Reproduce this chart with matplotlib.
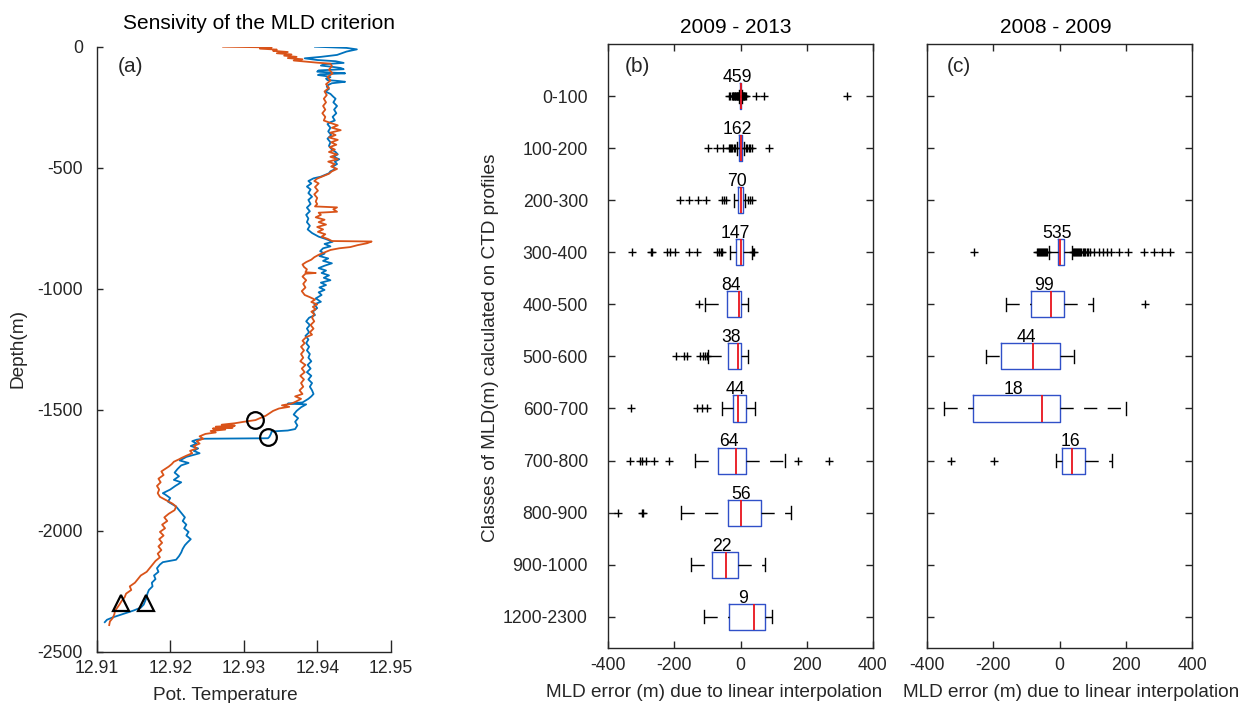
import matplotlib
matplotlib.use("Agg")
import matplotlib.pyplot as plt

plt.rcParams['font.family'] = ['Liberation Sans', 'DejaVu Sans']
plt.rcParams['axes.unicode_minus'] = False

# ---------------- (a) potential temperature profiles: (depth m, theta) ----------------
profile_blue = [
    (0, 12.9397), (-2, 12.9415), (-5, 12.9440), (-11, 12.9454), (-20, 12.9440), (-34, 12.9427),
    (-42, 12.9405), (-48, 12.9383), (-55, 12.9400), (-60, 12.9425), (-67, 12.9436), (-72, 12.9410),
    (-78, 12.9405), (-83, 12.9420), (-88, 12.9432), (-93, 12.9436), (-98, 12.9402), (-103, 12.9400),
    (-107, 12.9420), (-110, 12.9438), (-114, 12.9404), (-117, 12.9401), (-122, 12.9413), (-126, 12.9418),
    (-132, 12.9412), (-138, 12.9414), (-142, 12.9430), (-145, 12.9438), (-151, 12.9420), (-158, 12.9415),
    (-165, 12.9413), (-175, 12.9416), (-185, 12.9411), (-195, 12.9418), (-207, 12.9422),
    (-215, 12.9425), (-230, 12.9422), (-245, 12.9427), (-260, 12.9423), (-275, 12.9426), (-290, 12.9421),
    (-305, 12.9424), (-312, 12.9418),
    (-320, 12.9414), (-335, 12.9418), (-350, 12.9415), (-365, 12.9419), (-380, 12.9414), (-395, 12.9418),
    (-410, 12.9416), (-425, 12.9420),
    (-435, 12.9425), (-445, 12.9428), (-455, 12.9422), (-465, 12.9430), (-475, 12.9424), (-485, 12.9427),
    (-495, 12.9421), (-505, 12.9425), (-515, 12.9418), (-523, 12.9416),
    (-537, 12.9405), (-544, 12.9395), (-555, 12.9388), (-565, 12.9392), (-578, 12.9386), (-590, 12.9391),
    (-605, 12.9388), (-620, 12.9393), (-633, 12.9388),
    (-650, 12.9391), (-665, 12.9386), (-680, 12.9390), (-695, 12.9385), (-710, 12.9388), (-725, 12.9386),
    (-740, 12.9390), (-755, 12.9387), (-770, 12.9393), (-785, 12.9402),
    (-795, 12.9412), (-806, 12.9421), (-815, 12.9410), (-825, 12.9418), (-833, 12.9408),
    (-845, 12.9404), (-855, 12.9410), (-865, 12.9403), (-875, 12.9415), (-885, 12.9408), (-895, 12.9420),
    (-905, 12.9410), (-915, 12.9402), (-925, 12.9412), (-935, 12.9406), (-945, 12.9416), (-955, 12.9409),
    (-965, 12.9418), (-975, 12.9405), (-985, 12.9412), (-995, 12.9403), (-1005, 12.9410), (-1015, 12.9402),
    (-1026, 12.9406),
    (-1040, 12.9398), (-1054, 12.9405), (-1065, 12.9396), (-1080, 12.9400), (-1095, 12.9394), (-1109, 12.9397),
    (-1120, 12.9389), (-1135, 12.9385), (-1150, 12.9390), (-1165, 12.9386), (-1180, 12.9389), (-1195, 12.9384),
    (-1210, 12.9388), (-1225, 12.9385), (-1240, 12.9389), (-1255, 12.9386), (-1270, 12.9390),
    (-1285, 12.9388), (-1300, 12.9392), (-1315, 12.9387), (-1330, 12.9391), (-1345, 12.9386), (-1360, 12.9392),
    (-1375, 12.9388), (-1390, 12.9393),
    (-1405, 12.9390), (-1420, 12.9393), (-1435, 12.9395), (-1445, 12.9392), (-1455, 12.9388), (-1470, 12.9380),
    (-1475, 12.9360), (-1478, 12.9385), (-1490, 12.9378),
    (-1505, 12.9372), (-1520, 12.9368), (-1535, 12.9374), (-1550, 12.9370), (-1565, 12.9373), (-1580, 12.9370),
    (-1586, 12.9360), (-1590, 12.9338), (-1600, 12.9337), (-1612, 12.9335), (-1618, 12.9333), (-1620, 12.9245),
    (-1624, 12.9236),
    (-1630, 12.9230), (-1640, 12.9236), (-1650, 12.9228), (-1660, 12.9238), (-1670, 12.9232), (-1680, 12.9240),
    (-1695, 12.9222), (-1710, 12.9213), (-1720, 12.9225), (-1730, 12.9215), (-1745, 12.9210),
    (-1760, 12.9206), (-1775, 12.9212), (-1790, 12.9205), (-1800, 12.9215), (-1815, 12.9207), (-1830, 12.9200),
    (-1845, 12.9190), (-1850, 12.9193), (-1865, 12.9200), (-1880, 12.9197),
    (-1900, 12.9208), (-1915, 12.9212), (-1930, 12.9216), (-1945, 12.9220), (-1960, 12.9217), (-1975, 12.9222),
    (-1990, 12.9219), (-2005, 12.9225), (-2020, 12.9222), (-2035, 12.9228), (-2050, 12.9223), (-2060, 12.9220),
    (-2075, 12.9217), (-2090, 12.9215), (-2105, 12.9212), (-2120, 12.9208), (-2130, 12.9190), (-2140, 12.9186),
    (-2155, 12.9182), (-2170, 12.9184), (-2185, 12.9178), (-2200, 12.9180), (-2215, 12.9175), (-2230, 12.9176),
    (-2245, 12.9171), (-2260, 12.9169), (-2275, 12.9168), (-2290, 12.9166), (-2305, 12.9164), (-2318, 12.9160),
    (-2330, 12.9150), (-2345, 12.9135), (-2358, 12.9122), (-2368, 12.9114), (-2378, 12.9111),
]

profile_orange = [
    (0, 12.9272), (-3, 12.9338), (-8, 12.9322), (-12, 12.9345), (-17, 12.9340), (-22, 12.9360),
    (-27, 12.9345), (-32, 12.9365), (-37, 12.9355), (-42, 12.9372), (-47, 12.9360), (-52, 12.9380),
    (-57, 12.9368), (-62, 12.9385), (-66, 12.9400), (-70, 12.9418),
    (-80, 12.9420), (-95, 12.9416), (-110, 12.9421), (-125, 12.9414), (-140, 12.9418), (-155, 12.9412),
    (-170, 12.9416), (-185, 12.9410), (-200, 12.9413),
    (-215, 12.9409), (-230, 12.9412), (-245, 12.9408), (-260, 12.9411), (-275, 12.9407), (-290, 12.9411),
    (-305, 12.9409),
    (-315, 12.9418), (-325, 12.9428), (-335, 12.9420), (-345, 12.9432), (-355, 12.9418), (-365, 12.9425),
    (-375, 12.9416), (-385, 12.9428), (-395, 12.9419), (-405, 12.9426), (-415, 12.9417), (-425, 12.9424),
    (-435, 12.9416), (-445, 12.9427), (-455, 12.9418), (-465, 12.9428), (-475, 12.9415), (-485, 12.9424),
    (-495, 12.9419), (-505, 12.9427), (-515, 12.9420), (-525, 12.9416),
    (-535, 12.9408), (-545, 12.9400), (-555, 12.9396), (-565, 12.9402), (-580, 12.9397), (-595, 12.9401),
    (-610, 12.9396), (-625, 12.9400), (-640, 12.9398),
    (-650, 12.9400), (-660, 12.9397), (-664, 12.9427), (-672, 12.9422), (-682, 12.9427), (-686, 12.9402),
    (-695, 12.9405), (-705, 12.9398), (-715, 12.9410), (-725, 12.9402), (-735, 12.9412), (-745, 12.9400),
    (-755, 12.9408), (-765, 12.9401), (-775, 12.9411), (-785, 12.9406), (-795, 12.9415), (-803, 12.9420),
    (-805, 12.9474), (-812, 12.9468), (-820, 12.9455), (-828, 12.9445), (-833, 12.9430), (-840, 12.9418),
    (-850, 12.9410), (-860, 12.9402), (-870, 12.9396), (-880, 12.9392), (-890, 12.9385), (-900, 12.9380),
    (-910, 12.9382), (-920, 12.9386), (-932, 12.9384), (-935, 12.9398), (-938, 12.9384), (-950, 12.9380),
    (-965, 12.9385), (-980, 12.9381), (-995, 12.9384), (-1010, 12.9379), (-1026, 12.9383),
    (-1035, 12.9390), (-1045, 12.9397), (-1055, 12.9392), (-1065, 12.9400), (-1075, 12.9394), (-1085, 12.9398),
    (-1095, 12.9392), (-1105, 12.9396),
    (-1120, 12.9393), (-1135, 12.9396), (-1150, 12.9391), (-1165, 12.9395), (-1180, 12.9390), (-1190, 12.9393),
    (-1200, 12.9385), (-1215, 12.9380), (-1225, 12.9383), (-1240, 12.9378), (-1255, 12.9382), (-1270, 12.9378),
    (-1285, 12.9381), (-1300, 12.9377), (-1315, 12.9384), (-1330, 12.9379), (-1345, 12.9383), (-1360, 12.9377),
    (-1375, 12.9382), (-1390, 12.9378),
    (-1405, 12.9381), (-1420, 12.9376), (-1435, 12.9380), (-1445, 12.9370), (-1455, 12.9378),
    (-1465, 12.9372), (-1475, 12.9365), (-1482, 12.9352), (-1488, 12.9362), (-1495, 12.9348), (-1505, 12.9340),
    (-1515, 12.9335), (-1525, 12.9330), (-1535, 12.9322), (-1543, 12.9316), (-1550, 12.9300), (-1556, 12.9288),
    (-1562, 12.9270), (-1566, 12.9288), (-1570, 12.9262), (-1574, 12.9285), (-1578, 12.9258), (-1582, 12.9275),
    (-1588, 12.9255), (-1594, 12.9262),
    (-1600, 12.9248), (-1610, 12.9240), (-1620, 12.9245), (-1630, 12.9236), (-1640, 12.9240),
    (-1650, 12.9232), (-1660, 12.9236), (-1670, 12.9227), (-1680, 12.9230), (-1690, 12.9222), (-1700, 12.9215),
    (-1705, 12.9212), (-1715, 12.9205), (-1725, 12.9202), (-1735, 12.9198),
    (-1745, 12.9193), (-1755, 12.9188), (-1770, 12.9191), (-1785, 12.9184), (-1800, 12.9187), (-1815, 12.9182),
    (-1830, 12.9185), (-1845, 12.9183),
    (-1860, 12.9186), (-1875, 12.9195), (-1888, 12.9203), (-1900, 12.9208), (-1915, 12.9206),
    (-1930, 12.9198), (-1945, 12.9192), (-1960, 12.9196), (-1975, 12.9189), (-1990, 12.9193), (-2005, 12.9186),
    (-2020, 12.9191), (-2035, 12.9185), (-2050, 12.9189), (-2065, 12.9184), (-2080, 12.9188), (-2095, 12.9183),
    (-2110, 12.9186), (-2125, 12.9180),
    (-2140, 12.9176), (-2155, 12.9172), (-2170, 12.9168),
    (-2185, 12.9160), (-2200, 12.9156), (-2215, 12.9152), (-2230, 12.9145), (-2245, 12.9147), (-2260, 12.9140),
    (-2275, 12.9138), (-2290, 12.9134), (-2305, 12.9131), (-2318, 12.9128),
    (-2330, 12.9125), (-2345, 12.9124), (-2360, 12.9122), (-2375, 12.9118), (-2390, 12.9117),
]

mld_circle_temp = [12.9316, 12.9333]
mld_circle_depth = [-1543, -1614]
mld_triangle_temp = [12.9133, 12.9167]
mld_triangle_depth = [-2297, -2297]

depth_ticks = [0, -500, -1000, -1500, -2000, -2500]
temp_ticks = [12.91, 12.92, 12.93, 12.94, 12.95]
temp_tick_labels = ['12.91', '12.92', '12.93', '12.94', '12.95']

# ---------------- (b), (c) MLD error box statistics ----------------
classes = ['0-100', '100-200', '200-300', '300-400', '400-500', '500-600',
           '600-700', '700-800', '800-900', '900-1000', '1200-2300']
err_ticks = [-400, -200, 0, 200, 400]

# 2009 - 2013 (one entry per class)
counts_b = [459, 162, 70, 147, 84, 38, 44, 64, 56, 22, 9]
q1_b = [-2, -5, -7, -15, -42, -37, -24, -68, -39, -85, -35]
med_b = [0, 0, 2, 0, -5, -7, -8, -15, 2, -45, 40]
q3_b = [2, 5, 8, 7, 3, 3, 16, 16, 62, -8, 74]
whislo_b = [-5, -12, -20, -32, -108, -98, -57, -138, -180, -149, -111]
whishi_b = [5, 12, 15, 35, 22, 22, 43, 133, 152, 74, 96]
fliers_b = [
    [-35, -31, -27, -24, -22, -20, -18, -16, -14, -12, -10, -8, -7, 7, 8, 10, 12, 14, 16, 48, 70, 321],
    [-98, -70, -53, -35, -31, -28, -25, -20, -17, 16, 20, 25, 30, 35, 87],
    [-183, -155, -128, -104, -55, -50, -45, 22, 28, 35],
    [-328, -271, -266, -222, -212, -198, -155, -130, -70, -65, -60, -55, 38, 41],
    [-124],
    [-195, -170, -162, -122, -113, -107, -102],
    [-331, -132, -115, -100],
    [-333, -303, -296, -286, -261, -216, 175, 266],
    [-371, -298, -293],
    [],
    [],
]

# 2008 - 2009 (classes 300-400 to 700-800 only)
classes_c = ['300-400', '400-500', '500-600', '600-700', '700-800']
counts_c = [535, 99, 44, 18, 16]
q1_c = [-6, -86, -178, -261, 8]
med_c = [3, -27, -79, -52, 37]
q3_c = [14, 14, 0, 2, 76]
whislo_c = [-32, -163, -222, -350, -10]
whishi_c = [38, 100, 43, 201, 157]
fliers_c = [
    [-259, -67, -64, -61, -58, -55, -52, -49, -46, -43, -40, -37,
     42, 45, 48, 51, 54, 57, 60, 63, 66, 70, 74, 78, 82, 87, 92,
     103, 118, 131, 143, 156, 181, 207, 256, 284, 309, 335],
    [257],
    [],
    [],
    [-327, -198],
]

# ---------------- figure ----------------
W, H = 1241, 703
fig = plt.figure(figsize=(W / 100, H / 100), dpi=100)
fig.patch.set_facecolor('white')

INK = '#262626'
TICK_FS = 12.7
LABEL_FS = 13.7
TITLE_FS = 15


def px_axes(left, top, right, bottom):
    return fig.add_axes([left / W, 1 - bottom / H, (right - left) / W, (bottom - top) / H])


# ---- panel (a)
ax_a = px_axes(96.7, 46.7, 390.7, 651.7)
d_blue = [p[0] for p in profile_blue]
t_blue = [p[1] for p in profile_blue]
d_or = [p[0] for p in profile_orange]
t_or = [p[1] for p in profile_orange]
ax_a.plot(t_blue, d_blue, color='#0072BD', lw=1.3)
ax_a.plot(t_or, d_or, color='#D95319', lw=1.3)
ax_a.plot(mld_circle_temp, mld_circle_depth, 'o', ms=12, mfc='none', mec='black', mew=1.6)
ax_a.plot(mld_triangle_temp, mld_triangle_depth, '^', ms=12, mfc='none', mec='black', mew=1.6)
ax_a.set_xlim(12.91, 12.95)
ax_a.set_ylim(-2500, 0)
ax_a.set_xticks(temp_ticks)
ax_a.set_xticklabels(temp_tick_labels)
ax_a.set_yticks(depth_ticks)
ax_a.set_yticklabels([str(v) for v in depth_ticks])
for s in ('top', 'right'):
    ax_a.spines[s].set_visible(False)
for s in ('left', 'bottom'):
    ax_a.spines[s].set_color(INK)
    ax_a.spines[s].set_linewidth(1.0)
ax_a.tick_params(axis='x', direction='in', length=8.4, width=1.0, colors=INK,
                 labelsize=TICK_FS, pad=5.7)
ax_a.tick_params(axis='y', direction='in', length=4.5, width=1.0, colors=INK,
                 labelsize=TICK_FS, pad=9.9)
ax_a.text(0.07, 0.968, '(a)', transform=ax_a.transAxes, fontsize=TITLE_FS,
          color=INK, ha='left', va='center')

BOX_BLUE = '#3050c8'


def draw_boxes(ax, positions, q1, med, q3, lo, hi, fliers, counts):
    stats = []
    for i in range(len(positions)):
        stats.append(dict(q1=q1[i], med=med[i], q3=q3[i], whislo=lo[i], whishi=hi[i],
                          fliers=fliers[i]))
    art = ax.bxp(stats, positions=positions, widths=0.5, capwidths=0.25,
                 orientation='horizontal', manage_ticks=False,
                 boxprops=dict(color=BOX_BLUE, lw=1.0),
                 medianprops=dict(color='#e8141c', lw=1.3),
                 whiskerprops=dict(color='black', lw=1.0, linestyle=(0, (9.5, 7.5))),
                 capprops=dict(color='black', lw=1.0),
                 flierprops=dict(marker='+', markeredgecolor='black', markersize=5.5,
                                 markeredgewidth=1.0, linestyle='none'))
    # dashes of the lower whisker start at its cap
    for k in range(0, len(art['whiskers']), 2):
        w = art['whiskers'][k]
        w.set_xdata(list(w.get_xdata())[::-1])
        w.set_ydata(list(w.get_ydata())[::-1])
    for i, p in enumerate(positions):
        ax.annotate(str(counts[i]), xy=((q1[i] + q3[i]) / 2, p - 0.27),
                    xytext=(-2.5, 0), textcoords='offset points',
                    ha='center', va='baseline', fontsize=TICK_FS, color='black')


def style_box_axes(ax, labels):
    ax.set_xlim(-400, 400)
    ax.set_ylim(11.6, 0)
    ax.set_xticks(err_ticks)
    ax.set_xticklabels([str(v) for v in err_ticks])
    ax.set_yticks(range(1, len(classes) + 1))
    ax.set_yticklabels(classes if labels else [])
    for s in ax.spines.values():
        s.set_color(INK)
        s.set_linewidth(1.0)
    ax.tick_params(axis='both', direction='in', length=4.7, width=1.0, colors=INK,
                   labelsize=TICK_FS, top=True, right=True)
    ax.tick_params(axis='x', pad=6.2)
    ax.tick_params(axis='y', pad=14.4)


# ---- panel (b)
ax_b = px_axes(608, 44, 873, 648)
pos_b = [i + 1 for i in range(len(classes))]
draw_boxes(ax_b, pos_b, q1_b, med_b, q3_b, whislo_b, whishi_b, fliers_b, counts_b)
style_box_axes(ax_b, True)
ax_b.text(0.064, 0.962, '(b)', transform=ax_b.transAxes, fontsize=TITLE_FS,
          color=INK, ha='left', va='center')

# ---- panel (c)
ax_c = px_axes(927, 44, 1192, 648)
pos_c = [classes.index(c) + 1 for c in classes_c]
draw_boxes(ax_c, pos_c, q1_c, med_c, q3_c, whislo_c, whishi_c, fliers_c, counts_c)
style_box_axes(ax_c, False)
ax_c.text(0.075, 0.962, '(c)', transform=ax_c.transAxes, fontsize=TITLE_FS,
          color=INK, ha='left', va='center')

# ---- titles and axis labels
fig.text(259 / W, 1 - 29 / H, 'Sensivity of the MLD criterion', fontsize=TITLE_FS,
         ha='center', va='baseline', color='black')
fig.text(736 / W, 1 - 33 / H, '2009 - 2013', fontsize=TITLE_FS,
         ha='center', va='baseline', color='black')
fig.text(1056 / W, 1 - 33 / H, '2008 - 2009', fontsize=TITLE_FS,
         ha='center', va='baseline', color='black')

fig.text(225 / W, 1 - 700 / H, 'Pot. Temperature', fontsize=LABEL_FS,
         ha='center', va='baseline', color=INK)
fig.text(18.5 / W, 1 - 349 / H, 'Depth(m)', fontsize=LABEL_FS, rotation=90,
         ha='center', va='center', color=INK)
fig.text(546 / W, 1 - 697 / H, 'MLD error (m) due to linear interpolation',
         fontsize=LABEL_FS, ha='left', va='baseline', color=INK)
fig.text(903 / W, 1 - 697 / H, 'MLD error (m) due to linear interpolation',
         fontsize=LABEL_FS, ha='left', va='baseline', color=INK)
fig.text(490.5 / W, 1 - 348 / H, 'Classes of MLD(m) calculated on CTD profiles',
         fontsize=LABEL_FS, rotation=90, ha='center', va='center', color=INK)

fig.savefig('out.png', dpi=100)
